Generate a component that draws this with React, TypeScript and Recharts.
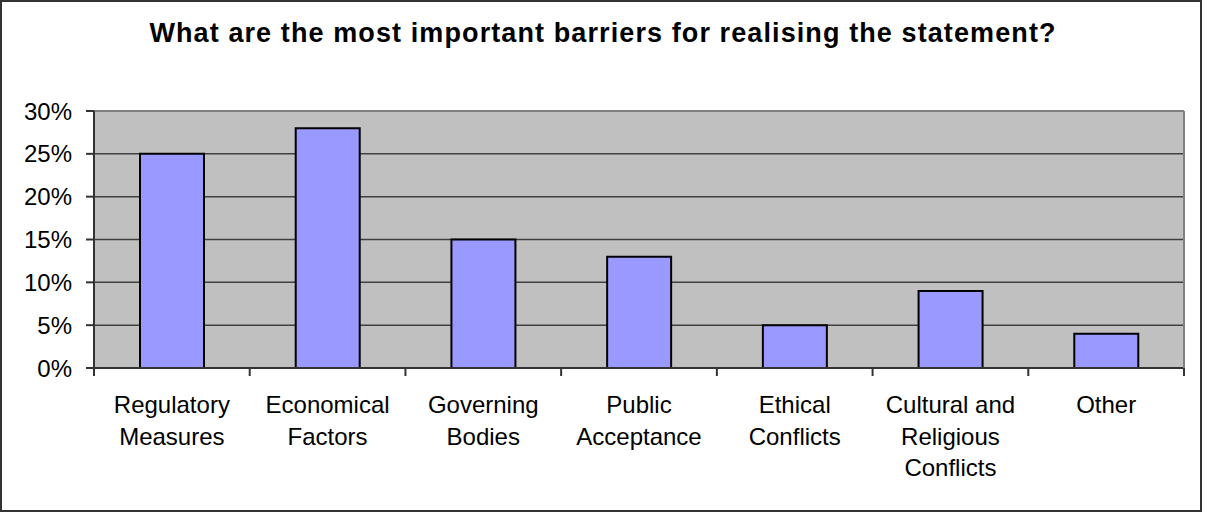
import { BarChart, Bar, XAxis, YAxis, CartesianGrid, ReferenceLine } from 'recharts';

const categories = [
  'Regulatory\nMeasures',
  'Economical\nFactors',
  'Governing\nBodies',
  'Public\nAcceptance',
  'Ethical\nConflicts',
  'Cultural and\nReligious\nConflicts',
  'Other',
];
const shares = [0.25, 0.28, 0.15, 0.13, 0.05, 0.09, 0.04];
const yTicks = [0, 0.05, 0.1, 0.15, 0.2, 0.25, 0.3];

const data = categories.map((name, i) => ({ name, value: shares[i] }));

const FONT = '"Liberation Sans", Arial, sans-serif';
const W = 1202;
const H = 512;

function CatTick(props: any) {
  const { x, y, payload, index } = props;
  const half = payload?.offset ?? 1090 / 14;
  const lines = String(payload.value).split('\n');
  const axisY = y - 10;
  return (
    <g>
      <line x1={x - half} x2={x - half} y1={axisY} y2={axisY + 8} stroke="#333" strokeWidth={2} />
      {index === categories.length - 1 && (
        <line x1={x + half} x2={x + half} y1={axisY} y2={axisY + 8} stroke="#333" strokeWidth={2} />
      )}
      {lines.map((l, i) => (
        <text key={i} x={x} y={axisY + 45 + i * 31.5} textAnchor="middle" fontSize={24} fill="#000" fontFamily={FONT}>
          {l}
        </text>
      ))}
    </g>
  );
}

function PctTick(props: any) {
  const { x, y, payload } = props;
  return (
    <text x={x} y={y} dy={8.5} textAnchor="end" fontSize={24} fill="#000" fontFamily={FONT}>
      {Math.round(payload.value * 100) + '%'}
    </text>
  );
}

export default function App() {
  return (
    <div style={{ position: 'absolute', left: 0, top: 0, width: W, height: H, background: '#fff' }}>
      <div
        style={{
          position: 'absolute', left: 0, top: 0, width: W, height: H,
          boxSizing: 'border-box', border: '2px solid #333',
        }}
      />
      <div
        style={{
          position: 'absolute', left: 2, top: 18, width: W, textAlign: 'center',
          fontFamily: FONT, fontWeight: 'bold', fontSize: 27, letterSpacing: 1.1, color: '#000',
        }}
      >
        What are the most important barriers for realising the statement?
      </div>
      <div style={{ position: 'absolute', left: 0, top: 0 }}>
        <BarChart width={W} height={H} data={data} margin={{ top: 111, right: 0, left: 0, bottom: 0 }} barSize={64}>
          <CartesianGrid vertical={false} fill="#C0C0C0" fillOpacity={1} stroke="#404040" strokeWidth={1.5} yAxisId="l" />
          <XAxis
            dataKey="name"
            height={144}
            interval={0}
            tickLine={false}
            tickSize={0}
            tickMargin={10}
            axisLine={{ stroke: '#333', strokeWidth: 2 }}
            tick={<CatTick />}
          />
          <YAxis
            yAxisId="l"
            width={94}
            domain={[0, 0.3]}
            ticks={yTicks}
            tickSize={8}
            tickMargin={14}
            tickLine={{ stroke: '#333', strokeWidth: 2 }}
            axisLine={{ stroke: '#333', strokeWidth: 2 }}
            tick={<PctTick />}
          />
          <YAxis
            yAxisId="r"
            orientation="right"
            width={18}
            domain={[0, 0.3]}
            tick={false}
            tickLine={false}
            axisLine={{ stroke: '#808080', strokeWidth: 2 }}
          />
          <ReferenceLine yAxisId="l" y={0.3} stroke="#808080" strokeWidth={2} />
          <Bar yAxisId="l" dataKey="value" fill="#9999FF" stroke="#000" strokeWidth={2} isAnimationActive={false} />
        </BarChart>
      </div>
    </div>
  );
}
